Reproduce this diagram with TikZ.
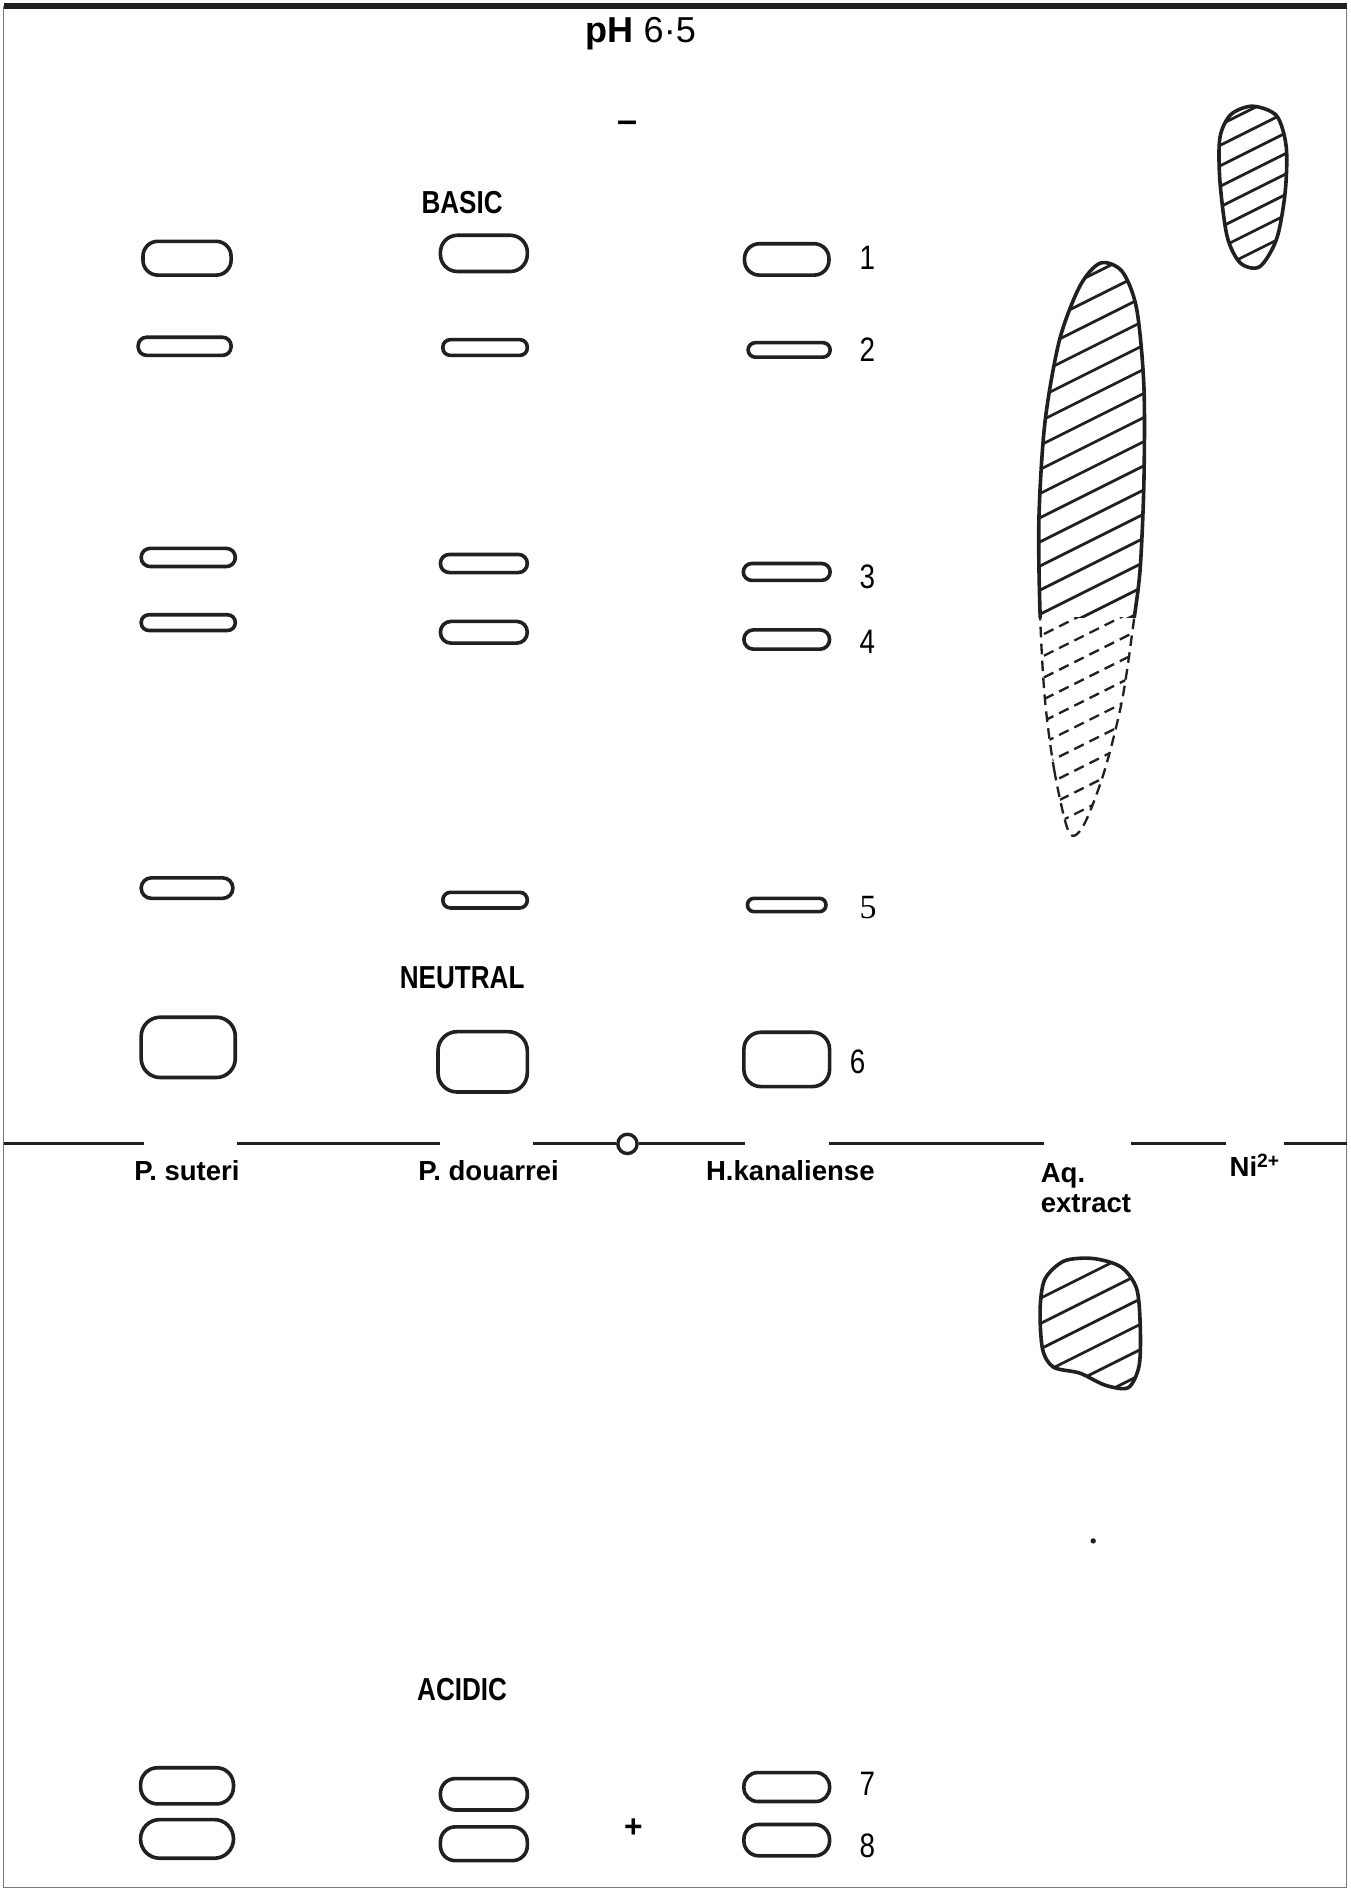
\documentclass[tikz,border=0pt]{standalone}
\usepackage{fontspec}
\setmainfont{Liberation Sans}
\newfontfamily\narrowfont[FakeStretch=0.82]{Liberation Sans}
\newfontfamily\serifdigit{Liberation Serif}
\usetikzlibrary{calc}
\definecolor{inkgrey}{RGB}{32,32,32}
\definecolor{framegrey}{RGB}{120,120,120}
\tikzset{
  spot/.style={draw=inkgrey,line width=1.7pt},
  hatch/.style={draw=inkgrey,line width=1.3pt},
  fadedhatch/.style={draw=inkgrey,line width=1.1pt,dash pattern=on 5pt off 3pt},
  titlelabel/.style={font=\bfseries\fontsize{17}{19}\selectfont},
  classlabel/.style={font=\narrowfont\bfseries\fontsize{15}{17}\selectfont},
  lanelabel/.style={font=\bfseries\fontsize{13}{14}\selectfont,align=left},
  bandno/.style={font=\narrowfont\fontsize{16}{18}\selectfont,anchor=west,inner sep=0pt},
  originmark/.style={circle,draw=inkgrey,line width=1.6pt,minimum size=3.2mm,inner sep=0pt},
  originline/.style={draw=inkgrey,line width=1.4pt}
}
\newcommand{\nickelspot}{plot[smooth cycle] coordinates {(1038,88) (1058,96) (1066,122)
  (1065,160) (1058,198) (1044,221) (1028,218) (1017,196) (1011,150) (1011,114) (1020,95)}}
\newcommand{\streak}{plot[smooth cycle] coordinates {(886,690) (874,640) (866,580) (862,510)
  (861,430) (866,350) (878,282) (895,237) (912,218) (930,225) (942,256) (948,320)
  (948,400) (945,470) (940,512) (930,580) (915,640) (898,684)}}
\newcommand{\aqspot}{plot[smooth cycle] coordinates {(882,1045) (906,1043) (929,1050)
  (942,1068) (945,1100) (944,1132) (935,1150) (916,1148) (895,1138) (873,1133)
  (864,1118) (862,1085) (866,1060)}}

\begin{document}
\begin{tikzpicture}[x=0.2mm,y=-0.2mm]
  \useasboundingbox (0,0) rectangle (1119,1568);
  % frame
  \draw[framegrey,line width=0.6pt] (3,5) -- (3,1564) -- (1116,1564) -- (1116,5);
  \draw[inkgrey,line width=2.4pt] (3,5) -- (1116,5);

  \node[titlelabel] (ph) at (531,28) {pH \mdseries 6·5};
  \node[titlelabel] (minus) at (520,105) {–};
  \node[classlabel] (basic) at (383,168) {BASIC};
  \node[classlabel] (neutral) at (383,810) {NEUTRAL};
  \node[classlabel] (acidic) at (383,1400) {ACIDIC};

  % bands of the three plant extracts
  \foreach \x/\y/\w/\h/\r in {
      155/214/73/28/7, 401/210/72/30/8, 652/215/70/26/7,
      153/287/77/15/4, 402/288/70/13/3.5, 654/290/68/12/3.4,
      156/462/78/15/4.2, 401/467/72/15/4.2, 652/474/72/14/4,
      156/516/78/13/3.6, 401/524/72/18/5, 652/530/71/16/4.5,
      155/736/76/17/4.8, 402/746/70/13/3.6, 652/750/65/11/3,
      156/868/78/50/9, 400/880/74/50/9, 652/878/71/45/8,
      155/1480/77/30/8, 401/1487/72/26/7, 652/1481/71/24/6.5,
      155/1524/77/32/9, 401/1528/72/28/7, 652/1525/71/26/7}
    \draw[spot,rounded corners=\r pt] ({\x-\w/2},{\y-\h/2}) rectangle ({\x+\w/2},{\y+\h/2});

  \node[bandno] (b1) at (712,214) {1};
  \node[bandno] (b2) at (712,290) {2};
  \node[bandno] (b3) at (712,478) {3};
  \node[bandno] (b4) at (712,532) {4};
  \node[bandno,font=\serifdigit\fontsize{16}{18}\selectfont] (b5) at (712,752) {5};
  \node[bandno] (b6) at (704,880) {6};
  \node[bandno] (b7) at (712,1478) {7};
  \node[bandno] (b8) at (712,1530) {8};
  \node[titlelabel,font=\bfseries\fontsize{15}{17}\selectfont] (plus) at (525,1515) {+};

  % Ni2+ reference spot
  \begin{scope}
    \clip \nickelspot;
    \foreach \k in {0,...,14} \draw[hatch] (990,{80+\k*17}) -- ++(120,-60);
  \end{scope}
  \draw[spot] \nickelspot;

  % aqueous extract streak, solid above and faint below
  \begin{scope}
    \clip (800,200) rectangle (1000,512);
    \begin{scope}
      \clip \streak;
      \foreach \k in {0,...,22} \draw[hatch] (840,{200+\k*20}) -- ++(140,-70);
    \end{scope}
    \draw[spot] \streak;
  \end{scope}
  \begin{scope}
    \clip (800,512) rectangle (1000,720);
    \begin{scope}
      \clip \streak;
      \foreach \k in {0,...,14} \draw[fadedhatch] (840,{520+\k*18}) -- ++(140,-70);
    \end{scope}
    \draw[fadedhatch] \streak;
  \end{scope}

  % origin
  \node[originmark] (origin) at (520,948) {};
  \draw[originline] (3,948) -- (119,948);
  \draw[originline] (196,948) -- (365,948);
  \draw[originline] (442,948) -- (origin.west);
  \draw[originline] (origin.east) -- (617,948);
  \draw[originline] (687,948) -- (865,948);
  \draw[originline] (937,948) -- (1016,948);
  \draw[originline] (1064,948) -- (1116,948);

  \node[lanelabel] (suteri) at (155,970) {P. suteri};
  \node[lanelabel] (douarrei) at (405,970) {P. douarrei};
  \node[lanelabel] (kanal) at (655,970) {H.kanaliense};
  \node[lanelabel,anchor=north] (aq) at (900,958) {Aq.\\extract};
  \node[lanelabel] (ni) at (1040,966) {Ni\textsuperscript{2+}};

  % acidic part of the aqueous extract
  \begin{scope}
    \clip \aqspot;
    \foreach \k in {0,...,9} \draw[hatch] (840,{1045+\k*21}) -- ++(140,-70);
  \end{scope}
  \draw[spot] \aqspot;
  \fill[inkgrey] (906,1277) circle (2.2);
\end{tikzpicture}
\end{document}
